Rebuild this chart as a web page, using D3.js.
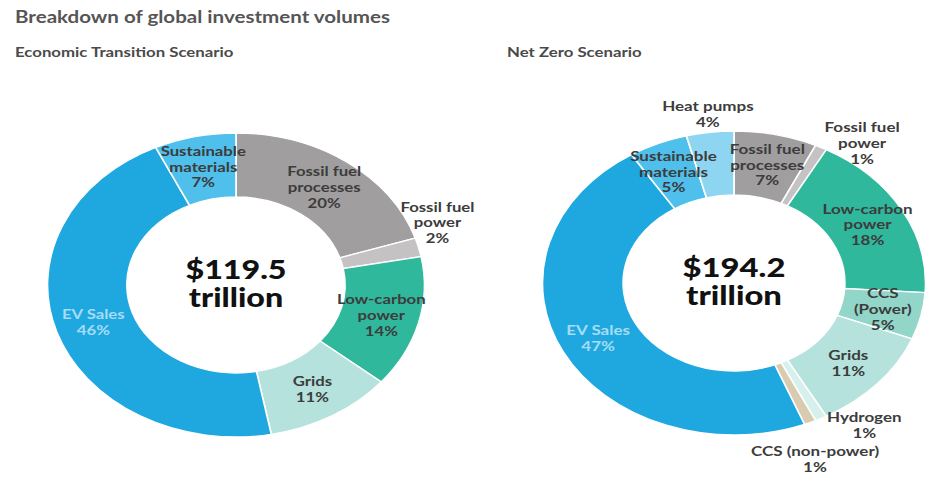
<!DOCTYPE html>
<html>
<head>
<meta charset="utf-8">
<script src="https://d3js.org/d3.v7.min.js"></script>
<style>
body { margin: 0; background: #fff; }
text { font-family: Lato, "Open Sans", sans-serif; }
</style>
</head>
<body>
<div id="chart"></div>
<script>
// values, in percent of the total
var etsNames  = ["Fossil fuel processes", "Fossil fuel power", "Low-carbon power", "Grids", "EV Sales", "Sustainable materials"];
var etsValues = [20, 2, 14, 11, 46, 7];
var etsTotal  = ["$119.5", "trillion"];

var nzNames  = ["Fossil fuel processes", "Fossil fuel power", "Low-carbon power", "CCS (Power)", "Grids",
                "Hydrogen", "CCS (non-power)", "EV Sales", "Sustainable materials", "Heat pumps"];
var nzValues = [7, 1, 18, 5, 11, 1, 1, 47, 5, 4];
var nzTotal  = ["$194.2", "trillion"];

var chartTitle = "Breakdown of global investment volumes";
var subTitles  = ["Economic Transition Scenario", "Net Zero Scenario"];

// styles
var colors = {
  "Fossil fuel processes": "#a09e9e",
  "Fossil fuel power": "#c4c2c2",
  "Low-carbon power": "#30b89c",
  "CCS (Power)": "#92d6ca",
  "Grids": "#b5e2dd",
  "Hydrogen": "#d6f0ee",
  "CCS (non-power)": "#d8cbb0",
  "EV Sales": "#1fa8e0",
  "Sustainable materials": "#4fbfec",
  "Heat pumps": "#8ed5f2"
};
var lineBreaks = {
  "Fossil fuel processes": ["Fossil fuel", "processes"],
  "Fossil fuel power": ["Fossil fuel", "power"],
  "Low-carbon power": ["Low-carbon", "power"],
  "Sustainable materials": ["Sustainable", "materials"],
  "CCS (Power)": ["CCS", "(Power)"]
};

var W = 930, H = 477;
var stretch = 1.245;   // the source picture is wider than tall

var svg = d3.select("#chart").append("svg")
  .attr("width", W).attr("height", H);

svg.append("text")
  .attr("transform", "translate(15,23) scale(" + stretch + ",1)")
  .style("font-size", "16.5px").style("font-weight", 700).attr("fill", "#555")
  .text(chartTitle);

svg.selectAll(".sub").data(subTitles).enter().append("text")
  .attr("class", "sub")
  .attr("transform", function(d, i) { return "translate(" + (i == 0 ? 15 : 507) + ",57) scale(" + stretch + ",1)"; })
  .style("font-size", "13.5px").style("font-weight", 700).attr("fill", "#4a4a4a")
  .text(function(d) { return d; });

//***********************************************************
// one donut
//***********************************************************
function donut(names, values, total, cx, cy, sx, labelMoves) {
  var rows = names.map(function(n, i) { return { name: n, value: values[i] }; });
  var outerR = 152, innerR = 88, labelR = 121;

  var pie = d3.pie().sort(null).value(function(d) { return d.value; });
  var arc = d3.arc().innerRadius(innerR).outerRadius(outerR);

  var g = svg.append("g")
    .attr("transform", "translate(" + cx + "," + cy + ") scale(" + sx + ",1)");

  var arcs = pie(rows);

  g.selectAll("path").data(arcs).enter().append("path")
    .attr("d", arc)
    .attr("fill", function(d) { return colors[d.data.name]; })
    .attr("stroke", "#fff")
    .attr("stroke-width", 1.3);

  // labels: centroid of the ring, small slices moved outside
  arcs.forEach(function(d) {
    var a = (d.startAngle + d.endAngle) / 2, r = labelR;
    var mv = labelMoves[d.data.name];
    if (mv) { a = mv[0] * Math.PI / 180; r = mv[1]; }
    var x = r * Math.sin(a), y = -r * Math.cos(a);
    var lines = (lineBreaks[d.data.name] || [d.data.name]).concat([d.data.value + "%"]);
    var lh = 15.8;
    var t = g.append("text")
      .attr("text-anchor", "middle")
      .style("font-size", "13.5px").style("font-weight", 700)
      .attr("fill", d.data.name == "EV Sales" ? "#a6dcf5" : "#3c3c3c");
    lines.forEach(function(s, k) {
      t.append("tspan")
        .attr("x", x)
        .attr("y", y - (lines.length - 1) * lh / 2 + k * lh)
        .attr("dy", "0.35em")
        .text(s);
    });
  });

  g.selectAll(".total").data(total).enter().append("text")
    .attr("class", "total")
    .attr("text-anchor", "middle")
    .attr("x", 0)
    .attr("y", function(d, i) { return i == 0 ? -15 : 13; })
    .attr("dy", "0.35em")
    .style("font-size", "26px").style("font-weight", 900).attr("fill", "#111")
    .text(function(d) { return d; });
}

donut(etsNames, etsValues, etsTotal, 236, 285, 1.24,
  { "Fossil fuel power": [69, 174] });

donut(nzNames, nzValues, nzTotal, 734, 283, 1.26,
  { "Fossil fuel power": [36, 173],
    "Heat pumps": [353, 170],
    "Hydrogen": [144, 176],
    "CCS (non-power)": [160, 188] });
</script>
</body>
</html>
